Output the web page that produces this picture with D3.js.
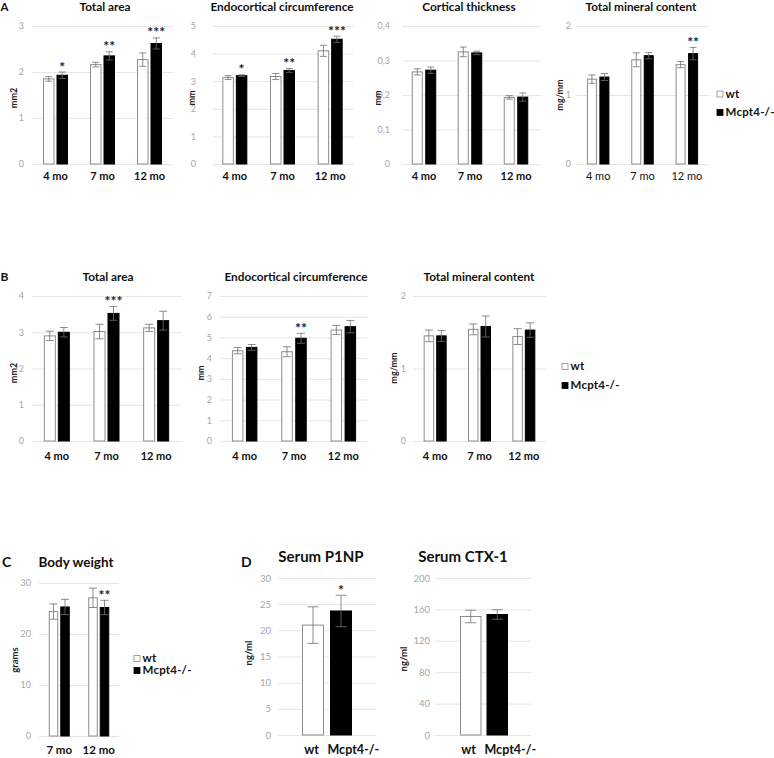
<!DOCTYPE html>
<html><head><meta charset="utf-8">
<script src="https://cdn.jsdelivr.net/npm/d3@7"></script>
<style>
html,body{margin:0;padding:0;background:#fff;}
svg text{font-family:Lato,"Open Sans",sans-serif;}
</style></head>
<body>
<svg id="fig" width="774" height="758"></svg>
<script>
// ---------- DATA ----------
const ageA = ["4 mo", "7 mo", "12 mo"];
const ageC = ["7 mo", "12 mo"];
const groupNames = ["wt", "Mcpt4-/-"];

// Panel A
const aAreaWt = [1.85, 2.16, 2.27], aAreaWtErr = [0.05, 0.05, 0.145];
const aAreaKo = [1.93, 2.35, 2.62], aAreaKoErr = [0.07, 0.09, 0.12];
const aAreaSig = ["*", "**", "***"];
const aAreaTicks = [0, 1, 2, 3];

const aEndoWt = [3.13, 3.17, 4.10], aEndoWtErr = [0.07, 0.11, 0.20];
const aEndoKo = [3.20, 3.39, 4.52], aEndoKoErr = [0.03, 0.07, 0.11];
const aEndoSig = ["*", "**", "***"];
const aEndoTicks = [0, 1, 2, 3, 4, 5];

const aThickWt = [0.267, 0.325, 0.193], aThickWtErr = [0.009, 0.014, 0.005];
const aThickKo = [0.272, 0.322, 0.194], aThickKoErr = [0.009, 0.005, 0.012];
const aThickSig = ["", "", ""];
const aThickTicks = [0, 0.1, 0.2, 0.3, 0.4];

const aTmcWt = [1.23, 1.51, 1.44], aTmcWtErr = [0.06, 0.10, 0.045];
const aTmcKo = [1.26, 1.57, 1.60], aTmcKoErr = [0.05, 0.045, 0.09];
const aTmcSig = ["", "", "**"];
const aTmcTicks = [0, 1, 2];

// Panel B
const bAreaWt = [2.90, 3.02, 3.12], bAreaWtErr = [0.13, 0.20, 0.10];
const bAreaKo = [3.00, 3.52, 3.32], bAreaKoErr = [0.13, 0.19, 0.26];
const bAreaSig = ["", "***", ""];
const bAreaTicks = [0, 1, 2, 3, 4];

const bEndoWt = [4.36, 4.31, 5.36], bEndoWtErr = [0.15, 0.24, 0.22];
const bEndoKo = [4.52, 4.96, 5.52], bEndoKoErr = [0.14, 0.24, 0.30];
const bEndoSig = ["", "**", ""];
const bEndoTicks = [0, 1, 2, 3, 4, 5, 6, 7];

const bTmcWt = [1.45, 1.54, 1.44], bTmcWtErr = [0.08, 0.075, 0.11];
const bTmcKo = [1.45, 1.58, 1.53], bTmcKoErr = [0.075, 0.145, 0.10];
const bTmcSig = ["", "", ""];
const bTmcTicks = [0, 1, 2];

// Panel C
const cWeightWt = [24.4, 27.1], cWeightWtErr = [1.5, 1.9];
const cWeightKo = [25.3, 25.2], cWeightKoErr = [1.5, 1.4];
const cWeightSig = ["", "**"];
const cWeightTicks = [0, 10, 20, 30];

// Panel D
const dP1npVal = [21.0, 23.7], dP1npErr = [3.5, 3.0], dP1npSig = ["", "*"];
const dP1npTicks = [0, 5, 10, 15, 20, 25, 30];
const dCtxVal = [151, 153.5], dCtxErr = [8, 6], dCtxSig = ["", ""];
const dCtxTicks = [0, 40, 80, 120, 160, 200];

// ---------- DRAWING ----------
const svg = d3.select("#fig");
const commaFmt = v => String(v).replace(".", ",");
const GRID = "#e6e6e6", TICK = "#a6a6a6", OUTLINE = "#8c8c8c", ERR = "#707070";

function drawAxisGrid(g, y, o) {
  const ax = d3.axisLeft(y).tickValues(o.ticks).tickFormat(o.fmt || commaFmt)
    .tickSize(-(o.gx2 - o.gx1)).tickPadding(o.gx1 - o.tx);
  const a = g.append("g").attr("transform", `translate(${o.gx1},0)`).call(ax);
  a.select(".domain").remove();
  a.selectAll(".tick line").attr("stroke", GRID).attr("stroke-width", 1);
  a.selectAll(".tick text").attr("fill", TICK).style("font-size", (o.tickSize || 9) + "px")
    .style("font-family", "Lato, sans-serif");
}

function errBar(g, cx, y, v, e, cap) {
  const top = y(v + e), bot = y(v - e);
  g.append("line").attr("x1", cx).attr("x2", cx).attr("y1", top).attr("y2", bot)
    .attr("stroke", ERR).attr("stroke-width", 0.8);
  [top, bot].forEach(t => g.append("line").attr("x1", cx - cap).attr("x2", cx + cap)
    .attr("y1", t).attr("y2", t).attr("stroke", ERR).attr("stroke-width", 0.8));
  return top;
}

function star(g, cx, top, s) {
  g.append("text").attr("x", cx).attr("y", top - 0.5).attr("text-anchor", "middle")
    .style("font-size", "14px").style("font-weight", "bold").attr("fill", "#222").text(s);
}

function drawTitles(g, o) {
  g.append("text").attr("x", o.titleX).attr("y", o.titleY).attr("text-anchor", "middle")
    .style("font-size", (o.titleSize || 11.8) + "px").style("font-weight", "bold").attr("fill", "#111")
    .text(o.title);
  g.append("text").attr("transform", `translate(${o.ylx},${o.yly}) rotate(-90)`)
    .attr("text-anchor", "middle").attr("dominant-baseline", "central")
    .style("font-size", (o.ylSize || 9) + "px").style("font-weight", "bold").attr("fill", "#222").text(o.ylabel);
}

function groupedChart(o) {
  const g = svg.append("g");
  const y = d3.scaleLinear().domain([0, o.max]).range([o.yBot, o.yTop]);
  drawAxisGrid(g, y, o);
  const x = d3.scaleBand().domain(o.cats).range([o.bx1, o.bx2]);
  const bw = x.bandwidth();
  const sub = d3.scaleBand().domain(groupNames)
    .range([bw / 2 - o.barW - o.gap / 2, bw / 2 + o.barW + o.gap / 2])
    .paddingInner(o.gap / (o.barW + o.gap));
  const series = [
    {name: groupNames[0], vals: o.wt, errs: o.wtErr, fill: "#fff", stroke: OUTLINE},
    {name: groupNames[1], vals: o.ko, errs: o.koErr, fill: "#000", stroke: "#000"}
  ];
  o.cats.forEach((c, i) => {
    series.forEach(s => {
      const bx = x(c) + sub(s.name);
      g.append("rect").attr("x", bx + 0.5).attr("y", y(s.vals[i]))
        .attr("width", sub.bandwidth() - 1).attr("height", y(0) - y(s.vals[i]))
        .attr("fill", s.fill).attr("stroke", s.stroke).attr("stroke-width", 1);
    });
    series.forEach(s => {
      const cx = x(c) + sub(s.name) + sub.bandwidth() / 2;
      const top = errBar(g, cx, y, s.vals[i], s.errs[i], o.cap || 3.5);
      if (s.name === groupNames[1] && o.sig[i]) star(g, cx, top, o.sig[i]);
    });
    g.append("text").attr("x", x(c) + bw / 2).attr("y", o.catY).attr("text-anchor", "middle")
      .style("font-size", (o.catSize || 11) + "px").style("font-weight", o.catWeight || "bold")
      .attr("fill", "#111").text(c);
  });
  drawTitles(g, o);
}

function singleChart(o) {
  const g = svg.append("g");
  const y = d3.scaleLinear().domain([0, o.max]).range([o.yBot, o.yTop]);
  drawAxisGrid(g, y, o);
  const x = d3.scaleBand().domain(groupNames).range([o.bx1, o.bx2])
    .paddingInner(o.gap / (o.barW + o.gap));
  const fills = ["#fff", "#000"], strokes = [OUTLINE, "#000"];
  groupNames.forEach((n, i) => {
    g.append("rect").attr("x", x(n) + 0.5).attr("y", y(o.vals[i]))
      .attr("width", x.bandwidth() - 1).attr("height", y(0) - y(o.vals[i]))
      .attr("fill", fills[i]).attr("stroke", strokes[i]);
  });
  const mid = (x(groupNames[0]) + x.bandwidth() + x(groupNames[1])) / 2;
  groupNames.forEach((n, i) => {
    const cx = x(n) + x.bandwidth() / 2;
    const top = errBar(g, cx, y, o.vals[i], o.errs[i], 5.5);
    if (o.sig[i]) star(g, cx, top, o.sig[i]);
    g.append("text").attr("x", i === 0 ? mid - 8 : mid + 0.5).attr("y", o.catY)
      .attr("text-anchor", i === 0 ? "end" : "start")
      .style("font-size", "12.5px").style("font-weight", "bold").attr("fill", "#111").text(n);
  });
  drawTitles(g, o);
}

function legend(x, y1, y2, fs) {
  const g = svg.append("g");
  [[y1, "#fff", OUTLINE], [y2, "#000", "#000"]].forEach((d, i) => {
    g.append("rect").attr("x", x).attr("y", d[0] - 6.5).attr("width", 6).attr("height", 6)
      .attr("fill", d[1]).attr("stroke", d[2]).attr("stroke-width", 0.8);
    g.append("text").attr("x", x + 8.5).attr("y", d[0]).style("font-size", (fs || 11.5) + "px")
      .style("letter-spacing", "0.2px")
      .style("font-weight", "bold").attr("fill", "#111").text(groupNames[i]);
  });
}

function panelLetter(t, x, y, fs) {
  svg.append("text").attr("x", x).attr("y", y).style("font-size", (fs || 12) + "px")
    .style("font-weight", "bold").attr("fill", "#111").text(t);
}

// Panel A
panelLetter("A", 0.5, 11, 11.5);
groupedChart({cats: ageA, wt: aAreaWt, wtErr: aAreaWtErr, ko: aAreaKo, koErr: aAreaKoErr, sig: aAreaSig,
  ticks: aAreaTicks, max: 3, yTop: 26, yBot: 164, gx1: 32, gx2: 173, bx1: 32, bx2: 173, tx: 24,
  barW: 11.5, gap: 2, catY: 180, title: "Total area", titleX: 105, titleY: 11, ylabel: "mm2", ylx: 13, yly: 98});
groupedChart({cats: ageA, wt: aEndoWt, wtErr: aEndoWtErr, ko: aEndoKo, koErr: aEndoKoErr, sig: aEndoSig,
  ticks: aEndoTicks, max: 5, yTop: 26, yBot: 164, gx1: 213, gx2: 354, bx1: 211, bx2: 354, tx: 196,
  barW: 11.5, gap: 2, catY: 180, title: "Endocortical circumference", titleX: 282, titleY: 11, ylabel: "mm", ylx: 191, yly: 98});
groupedChart({cats: ageA, wt: aThickWt, wtErr: aThickWtErr, ko: aThickKo, koErr: aThickKoErr, sig: aThickSig,
  ticks: aThickTicks, max: 0.4, yTop: 26, yBot: 164, gx1: 402, gx2: 541, bx1: 401, bx2: 539, tx: 390,
  barW: 11, gap: 2.5, catY: 180, title: "Cortical thickness", titleX: 469, titleY: 11, ylabel: "mm", ylx: 377, yly: 98});
groupedChart({cats: ageA, wt: aTmcWt, wtErr: aTmcWtErr, ko: aTmcKo, koErr: aTmcKoErr, sig: aTmcSig,
  ticks: aTmcTicks, max: 2, yTop: 26, yBot: 164, gx1: 576, gx2: 709, bx1: 576, bx2: 709, tx: 571,
  barW: 10, gap: 2.5, catY: 180, catWeight: "normal", title: "Total mineral content", titleX: 641, titleY: 11,
  ylabel: "mg/mm", ylx: 559, yly: 95});
legend(717, 97.5, 116);

// Panel B
panelLetter("B", 0.5, 281);
groupedChart({cats: ageA, wt: bAreaWt, wtErr: bAreaWtErr, ko: bAreaKo, koErr: bAreaKoErr, sig: bAreaSig,
  ticks: bAreaTicks, max: 4, yTop: 296, yBot: 441, gx1: 32, gx2: 182, bx1: 32, bx2: 181, tx: 24,
  barW: 12, gap: 2, cap: 4, catY: 460, title: "Total area", titleX: 108, titleY: 281, ylabel: "mm2", ylx: 13, yly: 373});
groupedChart({cats: ageA, wt: bEndoWt, wtErr: bEndoWtErr, ko: bEndoKo, koErr: bEndoKoErr, sig: bEndoSig,
  ticks: bEndoTicks, max: 7, yTop: 296, yBot: 441, gx1: 220, gx2: 368, bx1: 220, bx2: 368, tx: 212,
  barW: 11.5, gap: 2.5, cap: 4, catY: 460, title: "Endocortical circumference", titleX: 296, titleY: 281, ylabel: "mm", ylx: 200, yly: 373});
groupedChart({cats: ageA, wt: bTmcWt, wtErr: bTmcWtErr, ko: bTmcKo, koErr: bTmcKoErr, sig: bTmcSig,
  ticks: bTmcTicks, max: 2, yTop: 296, yBot: 441, gx1: 413, gx2: 546, bx1: 413, bx2: 546, tx: 406,
  barW: 10.5, gap: 2, cap: 4, catY: 460, title: "Total mineral content", titleX: 479, titleY: 281, ylabel: "mg/mm", ylx: 393, yly: 368});
legend(562, 370, 389);

// Panel C
panelLetter("C", 2, 567, 14);
groupedChart({cats: ageC, wt: cWeightWt, wtErr: cWeightWtErr, ko: cWeightKo, koErr: cWeightKoErr, sig: cWeightSig,
  ticks: cWeightTicks, max: 30, yTop: 583, yBot: 736, gx1: 39, gx2: 119, bx1: 39.5, bx2: 118.5, tx: 31,
  barW: 9.5, gap: 2, cap: 4, catY: 754, catSize: 11.5, title: "Body weight", titleX: 76, titleY: 567, titleSize: 13.5,
  ylabel: "grams", ylx: 14, yly: 660, ylSize: 9.5});
legend(134, 662, 674);

// Panel D
panelLetter("D", 241, 567, 14);
singleChart({vals: dP1npVal, errs: dP1npErr, sig: dP1npSig, ticks: dP1npTicks, max: 30, tickSize: 9.5,
  yTop: 578, yBot: 735, gx1: 278, gx2: 376, bx1: 302, bx2: 352, tx: 271, barW: 22, gap: 6,
  catY: 754, title: "Serum P1NP", titleX: 321, titleY: 562, titleSize: 15, ylabel: "ng/ml", ylx: 248, yly: 653, ylSize: 9.5});
singleChart({vals: dCtxVal, errs: dCtxErr, sig: dCtxSig, ticks: dCtxTicks, max: 200, tickSize: 9.5,
  yTop: 578, yBot: 735, gx1: 435, gx2: 531, bx1: 460, bx2: 508, tx: 430, barW: 21.5, gap: 5,
  catY: 754, title: "Serum CTX-1", titleX: 463, titleY: 562, titleSize: 15, ylabel: "ng/ml", ylx: 403, yly: 659, ylSize: 9.5});
</script>
</body></html>
